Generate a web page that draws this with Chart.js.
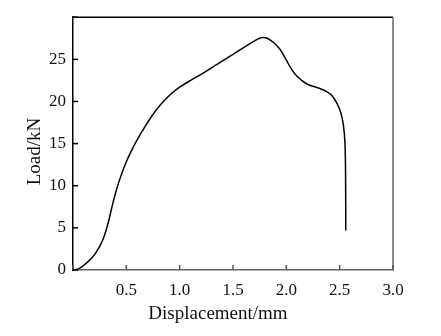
<!DOCTYPE html>
<html>
<head>
<meta charset="utf-8">
<script src="https://cdn.jsdelivr.net/npm/chart.js@4/dist/chart.umd.min.js"></script>
<style>
html,body{margin:0;padding:0;background:#fff;}
#wrap{width:441px;height:336px;position:relative;}
</style>
</head>
<body>
<div id="wrap"><canvas id="c" width="441" height="336"></canvas></div>
<script>
// Data (displacement in mm, load in kN)
const displacement = [0, 0.03, 0.06, 0.10, 0.15, 0.20, 0.25, 0.28, 0.30, 0.33, 0.36, 0.40, 0.45, 0.50, 0.55, 0.60, 0.65, 0.73, 0.82, 0.91, 1.00, 1.13, 1.25, 1.35, 1.50, 1.60, 1.69, 1.74, 1.78, 1.82, 1.88, 1.94, 2.00, 2.05, 2.10, 2.19, 2.30, 2.36, 2.42, 2.47, 2.51, 2.535, 2.55, 2.556, 2.557];
const load = [0, 0.05, 0.2, 0.55, 1.1, 1.8, 2.8, 3.6, 4.3, 5.6, 7.2, 9.2, 11.2, 12.85, 14.2, 15.4, 16.5, 18.1, 19.6, 20.8, 21.7, 22.7, 23.6, 24.4, 25.6, 26.4, 27.1, 27.45, 27.6, 27.5, 27.0, 26.2, 24.9, 23.8, 23.0, 22.1, 21.6, 21.3, 20.8, 19.9, 18.7, 17.2, 15.0, 10.0, 4.7];
const xTicks = [0, 0.5, 1.0, 1.5, 2.0, 2.5, 3.0];
const yTicks = [0, 5, 10, 15, 20, 25, 30];
const xTitle = 'Displacement/mm';
const yTitle = 'Load/kN';

const points = displacement.map((x, i) => ({x: x, y: load[i]}));
const FONT = '"Liberation Serif", "Times New Roman", serif';

function shiftTitle(dx, dy) {
  return function (s) {
    if (s._titlePatched) return;
    const orig = s.drawTitle;
    s.drawTitle = function () {
      this.ctx.save();
      this.ctx.translate(dx, dy);
      orig.apply(this, arguments);
      this.ctx.restore();
    };
    s._titlePatched = true;
  };
}

const frame = {
  id: 'frame',
  afterDraw(chart) {
    const {ctx, chartArea: a, scales} = chart;
    ctx.save();
    ctx.lineWidth = 1.5;
    ctx.strokeStyle = '#000';
    ctx.beginPath(); ctx.moveTo(a.left, a.top); ctx.lineTo(a.right, a.top); ctx.stroke();
    ctx.strokeStyle = '#666';
    ctx.beginPath(); ctx.moveTo(a.right, a.top); ctx.lineTo(a.right, a.bottom); ctx.stroke();
    ctx.strokeStyle = '#555';
    xTicks.forEach(v => {
      const px = scales.x.getPixelForValue(v);
      ctx.beginPath(); ctx.moveTo(px, a.bottom); ctx.lineTo(px, a.bottom - 5); ctx.stroke();
    });
    ctx.strokeStyle = '#000';
    yTicks.forEach(v => {
      const py = scales.y.getPixelForValue(v);
      ctx.beginPath(); ctx.moveTo(a.left, py); ctx.lineTo(a.left + 5, py); ctx.stroke();
    });
    ctx.restore();
  }
};

new Chart(document.getElementById('c'), {
  type: 'scatter',
  data: {
    datasets: [{
      data: points,
      showLine: true,
      borderColor: '#000',
      borderWidth: 1.5,
      pointRadius: 0,
      tension: 0.4,
      fill: false
    }]
  },
  options: {
    responsive: false,
    animation: false,
    devicePixelRatio: 1,
    plugins: { legend: {display: false}, tooltip: {enabled: false} },
    layout: { padding: {left: 0, top: 15, right: 48, bottom: 0} },
    scales: {
      x: {
        type: 'linear',
        min: 0, max: 3,
        afterFit(s) { s.height = 66; },
        afterUpdate: shiftTitle(-15, 1),
        afterBuildTicks(s) { s.ticks = xTicks.map(v => ({value: v})); },
        grid: { display: false, drawTicks: false },
        border: { display: true, color: '#666', width: 1.5 },
        ticks: {
          padding: 10,
          color: '#111',
          font: {family: FONT, size: 17},
          callback: v => (v === 0 ? '' : Number(v).toFixed(1))
        },
        title: {
          display: true, text: xTitle, color: '#111',
          font: {family: FONT, size: 19},
          padding: {top: 0, bottom: 12}
        }
      },
      y: {
        type: 'linear',
        min: 0, max: 30,
        afterFit(s) { s.width = 73; },
        afterUpdate: shiftTitle(1, 8),
        afterBuildTicks(s) { s.ticks = yTicks.map(v => ({value: v})); },
        grid: { display: false, drawTicks: false },
        border: { display: true, color: '#000', width: 1.5 },
        ticks: {
          padding: 7,
          color: '#111',
          font: {family: FONT, size: 17},
          callback: v => (v === 30 ? '' : String(v))
        },
        title: {
          display: true, text: yTitle, color: '#111',
          font: {family: FONT, size: 19},
          padding: {top: 23, bottom: 0}
        }
      }
    }
  },
  plugins: [frame]
});
</script>
</body>
</html>
